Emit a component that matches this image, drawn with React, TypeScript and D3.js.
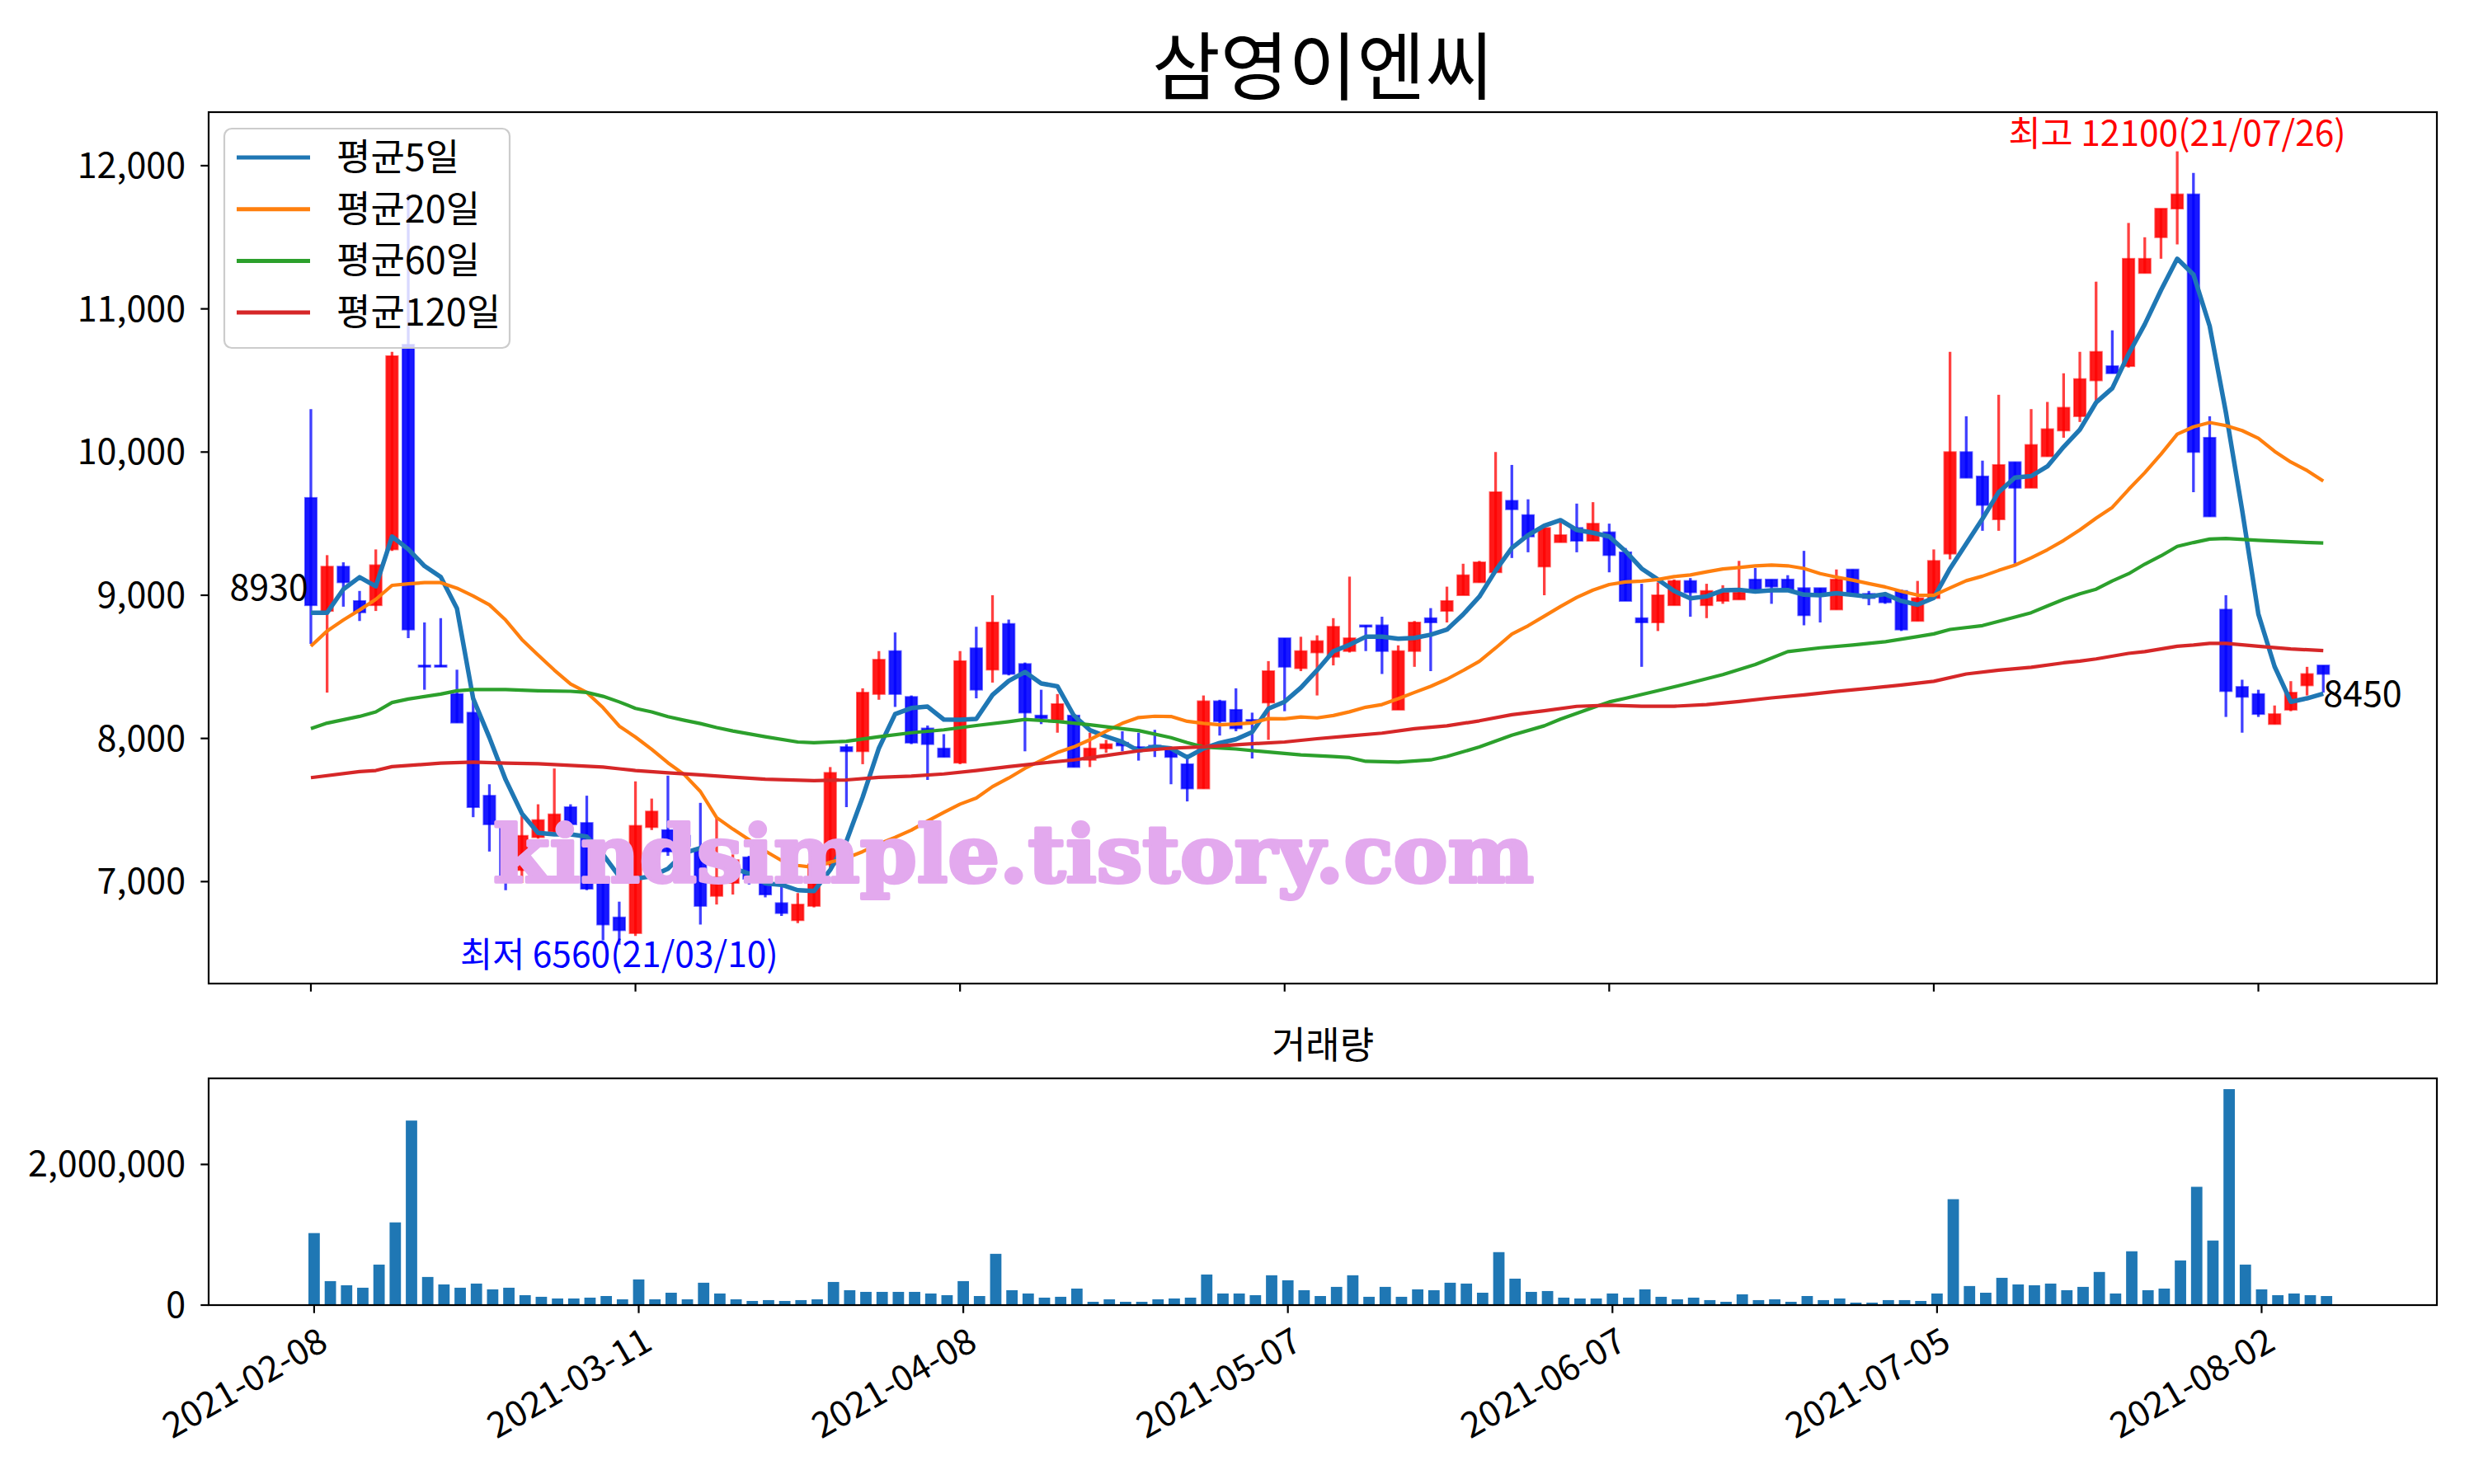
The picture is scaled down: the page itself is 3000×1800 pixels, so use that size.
import React from 'react';
import * as d3 from 'd3';

// ---------- DATA ----------
const tickIdx = [0, 20, 40, 60, 80, 100, 120];
const tickLabels = ['2021-02-08', '2021-03-11', '2021-04-08', '2021-05-07', '2021-06-07', '2021-07-05', '2021-08-02'];
const priceTicks = [7000, 8000, 9000, 10000, 11000, 12000];
const volTicks = [0, 2000000];

const open = [9680, 8890, 9200, 8960, 8930, 9320, 10750, 8510, 8510, 8310, 8180, 7600, 7410, 7080, 7310, 7350, 7520, 7410, 7010, 6750, 6640, 7380, 7360, 7320, 7230, 6900, 6990, 7170, 7000, 6850, 6730, 6830, 7120, 7940, 7910, 8310, 8610, 8290, 8070, 7930, 7830, 8630, 8480, 8800, 8520, 8160, 8130, 8160, 7850, 7930, 7970, 7940, 7950, 7920, 7820, 7650, 8260, 8200, 8130, 8250, 8700, 8490, 8600, 8570, 8610, 8790, 8790, 8200, 8610, 8840, 8890, 9000, 9090, 9160, 9660, 9560, 9200, 9370, 9470, 9380, 9440, 9300, 8840, 8810, 8930, 9100, 8930, 8960, 8970, 9110, 9110, 9110, 9050, 9050, 8900, 9180, 9010, 9000, 9030, 8820, 8980, 9290, 10000, 9830, 9530, 9930, 9750, 9970, 10150, 10250, 10500, 10600, 10600, 11250, 11500, 11700, 11800, 10100, 8900, 8360, 8310, 8100, 8200, 8370, 8510];
const high = [10300, 9280, 9230, 9030, 9320, 10700, 11800, 8810, 8840, 8480, 8260, 7680, 7420, 7460, 7540, 7790, 7540, 7600, 7060, 6860, 7700, 7580, 7740, 7330, 7550, 7440, 7190, 7180, 7020, 6980, 6920, 7130, 7800, 7960, 8350, 8610, 8740, 8300, 8090, 8030, 8610, 8780, 9000, 8830, 8530, 8340, 8310, 8170, 8040, 7990, 8050, 8040, 8060, 7940, 7860, 8300, 8270, 8350, 8180, 8540, 8700, 8710, 8720, 8840, 9130, 8790, 8850, 8650, 8820, 8910, 9060, 9220, 9240, 10000, 9910, 9670, 9470, 9510, 9640, 9650, 9500, 9330, 9080, 9090, 9110, 9120, 9080, 9070, 9240, 9190, 9110, 9140, 9310, 9050, 9180, 9180, 9030, 9020, 9040, 9100, 9320, 10700, 10250, 9940, 10400, 9930, 10300, 10350, 10550, 10700, 11190, 10850, 11600, 11500, 11700, 12100, 11950, 10250, 9000, 8410, 8340, 8230, 8400, 8500, 8510];
const low = [8660, 8320, 8920, 8820, 8890, 9310, 8700, 8340, 8500, 8110, 7450, 7210, 6940, 6990, 7300, 7340, 7380, 6940, 6590, 6560, 6620, 7360, 7180, 7200, 6700, 6840, 6910, 6980, 6890, 6760, 6710, 6820, 7100, 7520, 7820, 8270, 8220, 7960, 7710, 7870, 7820, 8280, 8390, 8440, 7910, 8100, 8040, 7800, 7800, 7900, 7910, 7845, 7870, 7680, 7560, 7650, 8020, 8050, 7860, 7990, 8190, 8470, 8300, 8510, 8600, 8610, 8450, 8200, 8500, 8470, 8810, 9000, 9090, 9160, 9260, 9300, 9000, 9370, 9300, 9380, 9160, 8960, 8500, 8750, 8930, 8850, 8840, 8940, 8970, 9020, 8940, 9040, 8790, 8810, 8900, 9000, 8930, 8940, 8750, 8820, 8980, 9250, 9820, 9450, 9450, 9220, 9750, 9970, 10100, 10210, 10350, 10550, 10590, 11250, 11350, 11450, 9720, 9550, 8150, 8040, 8150, 8100, 8190, 8300, 8320];
const close = [8930, 9200, 9090, 8880, 9210, 10670, 8760, 8500, 8500, 8110, 7520, 7400, 7030, 7320, 7430, 7470, 7400, 6950, 6700, 6660, 7390, 7490, 7210, 7250, 6830, 7030, 7150, 7020, 6910, 6780, 6840, 7120, 7760, 7910, 8320, 8550, 8310, 7970, 7960, 7870, 8540, 8340, 8810, 8450, 8180, 8140, 8240, 7800, 7930, 7960, 7950, 7930, 7940, 7870, 7650, 8260, 8120, 8070, 8120, 8470, 8500, 8610, 8680, 8780, 8700, 8780, 8610, 8610, 8810, 8810, 8960, 9140, 9230, 9720, 9600, 9410, 9470, 9420, 9380, 9500, 9280, 8960, 8810, 9000, 9100, 9020, 9030, 9020, 9020, 9040, 9060, 9040, 8860, 9000, 9110, 9000, 8980, 8950, 8760, 8980, 9240, 10000, 9820, 9630, 9910, 9750, 10050, 10160, 10310, 10510, 10700, 10550, 11350, 11350, 11700, 11800, 10000, 9550, 8330, 8290, 8170, 8170, 8320, 8450, 8450];
const volume = [1024000, 341000, 282000, 247000, 576000, 1176000, 2624000, 400000, 294000, 247000, 306000, 224000, 247000, 141000, 118000, 94000, 94000, 106000, 129000, 82000, 365000, 82000, 176000, 82000, 318000, 165000, 82000, 59000, 71000, 59000, 71000, 82000, 329000, 212000, 188000, 188000, 188000, 188000, 165000, 141000, 341000, 129000, 729000, 212000, 165000, 106000, 118000, 235000, 47000, 82000, 47000, 47000, 82000, 94000, 106000, 435000, 165000, 165000, 141000, 424000, 353000, 212000, 129000, 259000, 424000, 118000, 259000, 118000, 224000, 212000, 318000, 306000, 176000, 753000, 376000, 188000, 200000, 106000, 94000, 94000, 165000, 106000, 224000, 118000, 82000, 106000, 71000, 47000, 153000, 71000, 82000, 47000, 129000, 71000, 94000, 35000, 35000, 71000, 71000, 59000, 165000, 1506000, 271000, 176000, 388000, 294000, 282000, 306000, 212000, 259000, 471000, 165000, 765000, 212000, 235000, 635000, 1682000, 918000, 3071000, 576000, 224000, 141000, 165000, 141000, 129000];

// closes of the 4 sessions before 2021-02-08 (read back from the 5-day line)
const prevCloses = [9200, 8270, 8460, 9530];
// 20-day average for the first 19 sessions
const ma20Early = [8644, 8750, 8827, 8897, 8971, 9069, 9080, 9088, 9088, 9049, 8995, 8933, 8827, 8691, 8582, 8477, 8380, 8321, 8215];
// 60-day and 120-day averages
const ma60Idx = [0, 1, 3, 4, 5, 6, 8, 9, 10, 12, 14, 16, 17, 18, 19, 20, 21, 22, 23, 24, 25, 26, 28, 30, 31, 33, 35, 37, 39, 41, 43, 44, 46, 48, 50, 51, 53, 54, 55, 57, 59, 61, 63, 64, 65, 67, 69, 70, 72, 74, 76, 77, 79, 80, 81, 83, 85, 87, 89, 91, 93, 95, 97, 99, 100, 101, 103, 105, 106, 107, 108, 109, 110, 111, 112, 113, 114, 115, 116, 117, 118, 120, 122, 124];
const ma60Val = [8068, 8107, 8154, 8185, 8251, 8275, 8310, 8333, 8341, 8341, 8333, 8329, 8321, 8294, 8255, 8210, 8185, 8152, 8127, 8104, 8076, 8052, 8012, 7975, 7970, 7980, 8012, 8040, 8060, 8090, 8117, 8133, 8118, 8095, 8068, 8055, 8005, 7971, 7940, 7926, 7905, 7885, 7874, 7866, 7840, 7835, 7850, 7874, 7940, 8022, 8088, 8135, 8216, 8255, 8280, 8333, 8388, 8446, 8516, 8606, 8633, 8652, 8675, 8711, 8730, 8761, 8788, 8847, 8878, 8925, 8971, 9010, 9042, 9100, 9150, 9217, 9275, 9341, 9368, 9392, 9396, 9384, 9373, 9365];
const ma120Idx = [0, 3, 4, 5, 8, 10, 12, 14, 16, 18, 19, 20, 22, 24, 26, 28, 31, 33, 35, 37, 39, 41, 43, 45, 47, 49, 51, 53, 55, 58, 60, 62, 64, 66, 68, 70, 72, 74, 76, 78, 80, 82, 84, 86, 88, 90, 92, 94, 96, 98, 100, 102, 104, 106, 108, 109, 110, 112, 113, 115, 116, 117, 118, 120, 122, 124];
const ma120Val = [7726, 7768, 7776, 7803, 7827, 7835, 7827, 7823, 7812, 7800, 7788, 7776, 7760, 7745, 7730, 7715, 7705, 7710, 7728, 7737, 7752, 7776, 7803, 7827, 7850, 7881, 7913, 7932, 7941, 7963, 7975, 7998, 8018, 8037, 8068, 8088, 8123, 8166, 8193, 8224, 8232, 8225, 8225, 8236, 8258, 8283, 8304, 8328, 8350, 8373, 8399, 8450, 8477, 8497, 8528, 8540, 8555, 8594, 8606, 8644, 8652, 8664, 8664, 8644, 8625, 8613];

const legendNames = ['평균5일', '평균20일', '평균60일', '평균120일'];
const lineColors = ['#1f77b4', '#ff7f0e', '#2ca02c', '#d62728'];
const title = '삼영이엔씨';
const volTitle = '거래량';
const hiIdx = 115, hiText = '최고 12100(21/07/26)';
const loIdx = 19, loText = '최저 6560(21/03/10)';
const watermark = 'kindsimple.tistory.com';

// ---------- LAYOUT ----------
const MA = { l: 253, r: 2955, t: 136, b: 1193 };
const VA = { l: 253, r: 2955, t: 1308, b: 1583 };
const FONT = "'Noto Sans CJK KR', 'Noto Sans', sans-serif";
const NUM = 43;

export default function App() {
  const n = close.length;
  const xM = d3.scaleLinear().domain([-6.3, 131]).range([MA.l, MA.r]);
  const yM = d3.scaleLinear().domain([6288, 12374]).range([MA.b, MA.t]);
  const xV = d3.scaleLinear().domain([-6.5, 130.8]).range([VA.l, VA.r]);
  const yV = d3.scaleLinear().domain([0, 3224000]).range([VA.b, VA.t]);
  const day = xM(1) - xM(0);
  const bodyW = day * 0.72;
  const barW = (xV(1) - xV(0)) * 0.7;

  const allC = prevCloses.concat(close);
  const ma5: [number, number][] = close.map((_, i) => [i, d3.mean(allC.slice(i, i + 5)) as number]);
  const ma20: [number, number][] = close.map((_, i) =>
    [i, i < 19 ? ma20Early[i] : (d3.mean(close.slice(i - 19, i + 1)) as number)]);
  const ma60: [number, number][] = ma60Idx.map((d, k) => [d, ma60Val[k]]);
  const ma120: [number, number][] = ma120Idx.map((d, k) => [d, ma120Val[k]]);
  const line = d3.line<[number, number]>().x(d => xM(d[0])).y(d => yM(d[1]));
  const series = [ma5, ma20, ma60, ma120];
  const widths = [5.5, 4.2, 4.2, 4.2];

  const fmt = d3.format(',');

  return (
    <svg width={3000} height={1800} style={{ position: 'absolute', left: 0, top: 0 }} fontFamily={FONT}>
      <rect x={0} y={0} width={3000} height={1800} fill="#ffffff" />
      <defs>
        <clipPath id="clipM"><rect x={MA.l} y={MA.t} width={MA.r - MA.l} height={MA.b - MA.t} /></clipPath>
      </defs>
      {/* title */}
      <text x={(MA.l + MA.r) / 2} y={114} fontSize={90} textAnchor="middle" fill="#000">{title}</text>

      {/* candles */}
      <g clipPath="url(#clipM)">
        {close.map((c, i) => {
          const up = c >= open[i];
          const col = up ? '#ff0000' : '#0000ff';
          const x = xM(i);
          const yT = yM(Math.max(open[i], c));
          const yB = yM(Math.min(open[i], c));
          return (
            <g key={i}>
              <line x1={x} x2={x} y1={yM(high[i])} y2={yM(low[i])} stroke={col} strokeOpacity={0.75} strokeWidth={3.3} />
              <rect x={x - bodyW / 2} y={yT} width={bodyW} height={Math.max(yB - yT, 1.5)} fill={col} fillOpacity={0.9}
                stroke={col} strokeOpacity={0.6} strokeWidth={2} />
            </g>
          );
        })}
        {series.map((s, k) => (
          <path key={k} d={line(s) || ''} fill="none" stroke={lineColors[k]} strokeWidth={widths[k]} strokeLinejoin="round" />
        ))}
      </g>

      {/* watermark */}
      <text x={598} y={1070} fontFamily="'DejaVu Serif', serif" fontWeight="bold" fontSize={96}
        textLength={1262} lengthAdjust="spacingAndGlyphs" fill="#e3a9ee" stroke="#e3a9ee" strokeWidth={4}
        strokeLinejoin="round">{watermark}</text>

      {/* annotations */}
      <text x={xM(0) - 3} y={yM(close[0]) - 6} fontSize={NUM} textAnchor="end" fill="#000">{close[0]}</text>
      <text x={xM(n - 1)} y={yM(close[n - 1]) + 39} fontSize={NUM} textAnchor="start" fill="#000">{close[n - 1]}</text>
      <text x={xM(hiIdx)} y={yM(high[hiIdx]) - 7} fontSize={42.5} textAnchor="middle" fill="#ff0000">{hiText}</text>
      <text x={xM(loIdx)} y={yM(low[loIdx]) + 27} fontSize={42.5} textAnchor="middle" fill="#0000ff">{loText}</text>

      {/* main axes frame & ticks */}
      <rect x={MA.l} y={MA.t} width={MA.r - MA.l} height={MA.b - MA.t} fill="none" stroke="#000" strokeWidth={2.2} />
      {priceTicks.map(v => (
        <g key={v}>
          <line x1={MA.l} x2={MA.l - 9.7} y1={yM(v)} y2={yM(v)} stroke="#000" strokeWidth={2.2} />
          <text x={MA.l - 28} y={yM(v) + 15} fontSize={NUM} textAnchor="end" fill="#000">{fmt(v)}</text>
        </g>
      ))}
      {tickIdx.map(t => (
        <line key={t} x1={xM(t)} x2={xM(t)} y1={MA.b} y2={MA.b + 9.7} stroke="#000" strokeWidth={2.2} />
      ))}

      {/* legend */}
      <rect x={272} y={156} width={346} height={266} rx={9} fill="#ffffff" fillOpacity={0.8} stroke="#cccccc" strokeWidth={2.2} />
      {legendNames.map((nm, k) => {
        const yy = 191 + k * 62.7;
        return (
          <g key={nm}>
            <line x1={287} x2={376} y1={yy} y2={yy} stroke={lineColors[k]} strokeWidth={5} />
            <text x={408} y={yy + 16} fontSize={45} fill="#000">{nm}</text>
          </g>
        );
      })}

      {/* volume */}
      <text x={(VA.l + VA.r) / 2} y={1284} fontSize={45} textAnchor="middle" fill="#000">{volTitle}</text>
      {volume.map((v, i) => (
        <rect key={i} x={xV(i) - barW / 2} y={yV(v)} width={barW} height={yV(0) - yV(v)} fill="#1f77b4" />
      ))}
      <rect x={VA.l} y={VA.t} width={VA.r - VA.l} height={VA.b - VA.t} fill="none" stroke="#000" strokeWidth={2.2} />
      {volTicks.map(v => (
        <g key={v}>
          <line x1={VA.l} x2={VA.l - 9.7} y1={yV(v)} y2={yV(v)} stroke="#000" strokeWidth={2.2} />
          <text x={VA.l - 28} y={yV(v) + 15} fontSize={NUM} textAnchor="end" fill="#000">{fmt(v)}</text>
        </g>
      ))}
      {tickIdx.map((t, k) => {
        const x = xV(t);
        const top = VA.b + 19.4;
        const a = 38;
        return (
          <g key={t}>
            <line x1={x} x2={x} y1={VA.b} y2={VA.b + 9.7} stroke="#000" strokeWidth={2.2} />
            <text transform={`translate(${x + 0.5 * a},${top + 0.866 * a}) rotate(-30)`} fontSize={NUM} textAnchor="end" fill="#000">{tickLabels[k]}</text>
          </g>
        );
      })}
    </svg>
  );
}
